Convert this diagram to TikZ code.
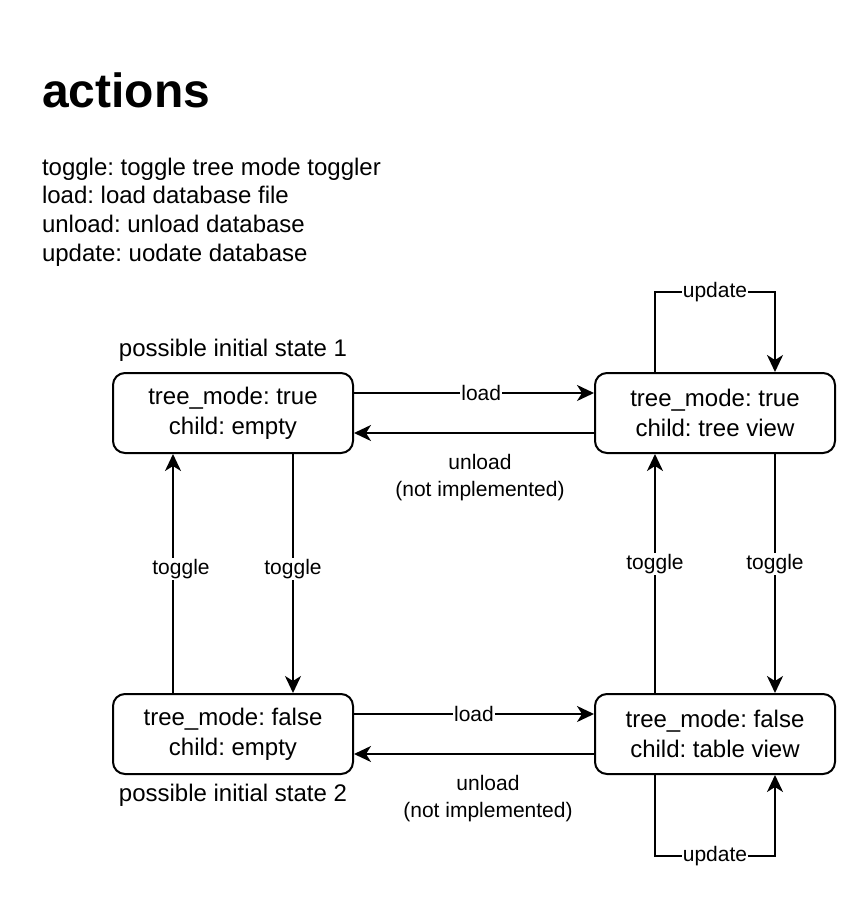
\documentclass[tikz,border=0pt]{standalone}
\usepackage{fontspec}
\setmainfont{Liberation Sans}
\frenchspacing
\usetikzlibrary{arrows.meta, positioning}

\begin{document}
\begin{tikzpicture}[x=1pt, y=-1pt, line width=2pt,
                state/.style={draw, rounded corners=12pt, minimum width=240pt, minimum height=80pt,
                    align=center, font=\fontsize{24}{30}\selectfont},
                trans/.style={-{Stealth[length=17pt, width=16pt, inset=5pt]}},
                lbl/.style={fill=white, inner sep=1pt, font=\fontsize{21}{28}\selectfont},
                lblb/.style={inner sep=0pt, align=center, font=\fontsize{21}{27.5}\selectfont},
                note/.style={inner sep=0pt, font=\fontsize{24}{29}\selectfont}]
                \useasboundingbox (0,0) rectangle (866,902);
                \node[inner sep=0pt, anchor=base west, font=\fontsize{48}{58}\selectfont\bfseries] (T) at (41,107) {actions};
                \foreach \txt [count=\i] in {toggle: toggle tree mode toggler, load: load database file,
                    unload: unload database, update: uodate database}
                    \node[note, anchor=base west] (L\i) at (41,{175+28.8*(\i-1)}) {\txt};
                \node[state] (A) at (233,413) {tree\_mode: true\\child: empty};
                \node[state, right=240pt of A] (B) {tree\_mode: true\\child: tree view};
                \node[state, below=239pt of A] (C) {tree\_mode: false\\child: empty};
                \node[state, below=239pt of B] (D) {tree\_mode: false\\child: table view};
                \node[note, anchor=base] (I1) at ([yshift=16pt]A.north) {possible initial state 1};
                \node[note, anchor=base] (I2) at ([yshift=-26pt]C.south) {possible initial state 2};
                \draw[trans] ([yshift=20pt]A.east) -- node[lbl, pos=0.53] (l1) {load} ([yshift=20pt]B.west);
                \draw[trans] ([yshift=-20pt]B.west) -- node[lblb, below=20pt, xshift=6pt] (u1) {unload\\(not implemented)} ([yshift=-20pt]A.east);
                \draw[trans] ([yshift=20pt]C.east) -- node[lbl, pos=0.5] (l2) {load} ([yshift=20pt]D.west);
                \draw[trans] ([yshift=-20pt]D.west) -- node[lblb, below=20pt, xshift=14pt] (u2) {unload\\(not implemented)} ([yshift=-20pt]C.east);
                \draw[trans] ([xshift=-60pt]C.north) -- node[lbl, pos=0.52, xshift=8pt] (t1) {toggle} ([xshift=-60pt]A.south);
                \draw[trans] ([xshift=60pt]A.south) -- node[lbl, pos=0.48] (t2) {toggle} ([xshift=60pt]C.north);
                \draw[trans] ([xshift=-60pt]D.north) -- node[lbl, pos=0.54] (t3) {toggle} ([xshift=-60pt]B.south);
                \draw[trans] ([xshift=60pt]B.south) -- node[lbl, pos=0.46] (t4) {toggle} ([xshift=60pt]D.north);
                \draw[trans] ([xshift=-60pt]B.north) -- ++(0,-80) -| node[lbl, pos=0.25] (p1) {update} ([xshift=60pt]B.north);
                \draw[trans] ([xshift=-60pt]D.south) -- ++(0,81) -| node[lbl, pos=0.25] (p2) {update} ([xshift=60pt]D.south);
            \end{tikzpicture}
\end{document}
